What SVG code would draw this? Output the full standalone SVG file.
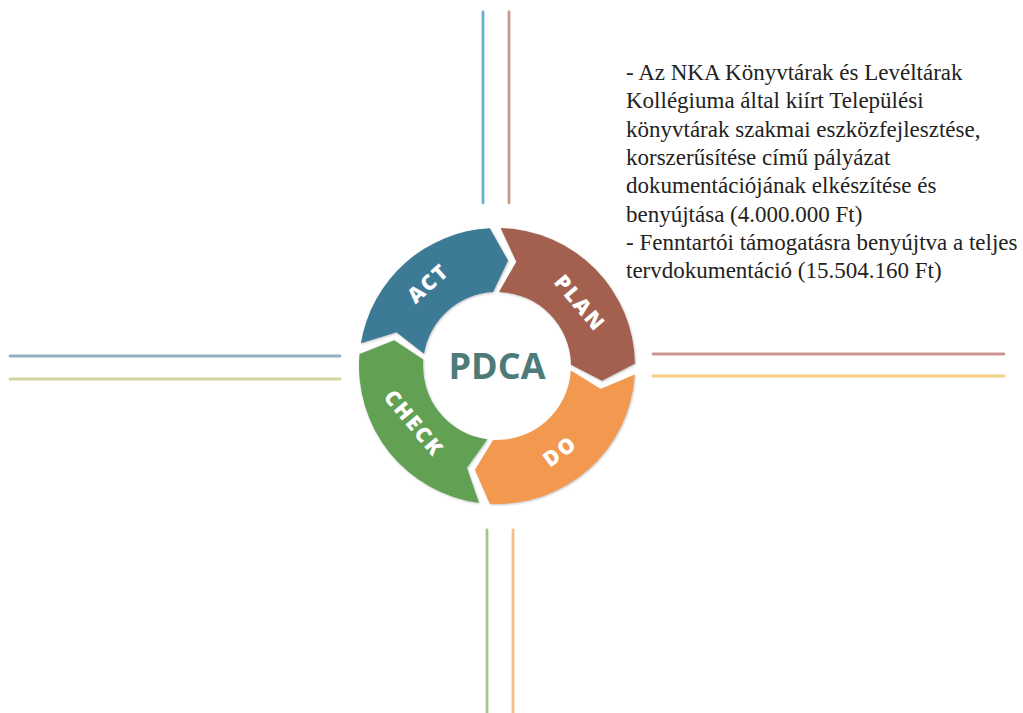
<svg xmlns="http://www.w3.org/2000/svg" width="1023" height="713" viewBox="0 0 1023 713">
<defs>
<style>
.ln{fill:none;stroke-width:2.8;stroke-linecap:round}
.seg{filter:url(#sh)}
.lbl{font-family:"Open Sans","Liberation Sans",Arial,sans-serif;font-weight:800;font-size:21px;fill:#ffffff;text-anchor:middle;letter-spacing:2px}
.body{font-family:"Liberation Serif","Times New Roman",serif;font-size:23px;fill:#222222}
</style>
<filter id="sh" x="-10%" y="-10%" width="120%" height="120%">
<feDropShadow dx="0.8" dy="1" stdDeviation="1.2" flood-color="#777777" flood-opacity="0.45"/>
</filter>
</defs>
<rect width="1023" height="713" fill="#ffffff"/>
<g id="connectors">
<line class="ln" x1="483" y1="12" x2="483" y2="203" stroke="#66b0d4"/>
<line class="ln" x1="509" y1="12" x2="509" y2="203" stroke="#c99a8b"/>
<line class="ln" x1="487" y1="530" x2="487" y2="713" stroke="#9dcb88"/>
<line class="ln" x1="513" y1="530" x2="513" y2="713" stroke="#f6bf88"/>
<line class="ln" x1="10" y1="356" x2="340" y2="356" stroke="#8fb1c0"/>
<line class="ln" x1="10" y1="379" x2="340" y2="379" stroke="#d3d5a0"/>
<line class="ln" x1="653" y1="354" x2="1004" y2="354" stroke="#c99592"/>
<line class="ln" x1="653" y1="376" x2="1004" y2="376" stroke="#f3cf82"/>
</g>
<g id="act">
<path class="seg" fill="#3d7a96" d="M360.89,343.23 A138,138 0 0,1 489.78,228.19 L508.08,260.58 L493.13,292.10 A74,74 0 0,0 424.01,353.79 L396.48,332.37 Z"/>
<text class="lbl" transform="translate(428,283) rotate(-42)" dy="0.36em">ACT</text>
</g>
<g id="plan">
<path class="seg" fill="#a4614f" d="M500.61,228.05 A138,138 0 0,1 634.98,363.59 L601.97,380.75 L570.99,364.71 A74,74 0 0,0 498.94,292.03 L516.32,261.78 Z"/>
<text class="lbl" transform="translate(580,303) rotate(50)" dy="0.36em">PLAN</text>
</g>
<g id="do">
<path class="seg" fill="#f2994f" d="M634.74,374.42 A138,138 0 0,1 489.78,503.81 L474.96,469.68 L493.13,439.90 A74,74 0 0,0 570.86,370.52 L600.49,388.94 Z"/>
<text class="lbl" transform="translate(560,451) rotate(-37)" dy="0.36em">DO</text>
</g>
<g id="check">
<path class="seg" fill="#62a153" d="M478.99,502.82 A138,138 0 0,1 359.53,353.97 L394.15,340.36 L423.28,359.55 A74,74 0 0,0 487.34,439.37 L466.89,467.63 Z"/>
<text class="lbl" transform="translate(414,423) rotate(50)" dy="0.36em">CHECK</text>
</g>
<g id="pdca">
<text x="497" y="379" font-family="'Open Sans','Liberation Sans',Arial,sans-serif" font-weight="bold" font-size="36" fill="#4d7b79" text-anchor="middle">PDCA</text>
</g>
<g id="note">
<text class="body" x="626" y="80">- Az NKA Könyvtárak és Levéltárak</text>
<text class="body" x="626" y="108.3">Kollégiuma által kiírt Települési</text>
<text class="body" x="626" y="136.6">könyvtárak szakmai eszközfejlesztése,</text>
<text class="body" x="626" y="164.9">korszerűsítése című pályázat</text>
<text class="body" x="626" y="193.2">dokumentációjának elkészítése és</text>
<text class="body" x="626" y="221.5">benyújtása (4.000.000 Ft)</text>
<text class="body" x="626" y="249.8">- Fenntartói támogatásra benyújtva a teljes</text>
<text class="body" x="626" y="278.1">tervdokumentáció (15.504.160 Ft)</text>
</g>
</svg>
